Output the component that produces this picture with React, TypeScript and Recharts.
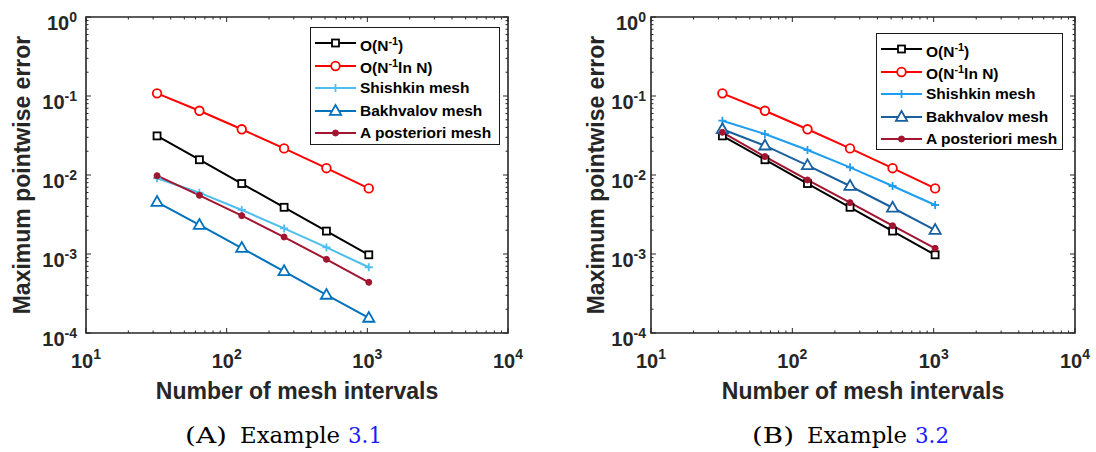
import React from 'react';
import { LineChart, Line, XAxis, YAxis, Legend, ReferenceArea } from 'recharts';

// ---------- data ----------
const meshSizes = [32, 64, 128, 256, 512, 1024];
const orderN = [0.03125, 0.0156, 0.0078, 0.0039, 0.00195, 0.000977];
const orderNlogN = [0.108, 0.065, 0.0379, 0.0217, 0.0122, 0.00677];

const shishkinA = [0.0091, 0.00597, 0.00361, 0.00211, 0.00121, 0.00068];
const bakhvalovA = [0.00455, 0.00233, 0.00119, 0.000604, 0.000303, 0.000155];
const posterioriA = [0.0098, 0.00553, 0.00306, 0.00164, 0.000855, 0.000438];

const shishkinB = [0.0487, 0.033, 0.0207, 0.0125, 0.00726, 0.00417];
const bakhvalovB = [0.0379, 0.0235, 0.01325, 0.00726, 0.00385, 0.00201];
const posterioriB = [0.0347, 0.0171, 0.00865, 0.00447, 0.00228, 0.00118];

const xMajorTicks = [10, 100, 1000, 10000];
const yMajorTicks = [1e-4, 1e-3, 1e-2, 1e-1, 1];
const minorMultipliers = [2, 3, 4, 5, 6, 7, 8, 9];

const xLabel = 'Number of mesh intervals';
const yLabel = 'Maximum pointwise error';

// build tick lists (majors + minors)
const withMinors = (majors: number[]) => {
  const out: number[] = [];
  majors.forEach((m, i) => {
    out.push(m);
    if (i < majors.length - 1) minorMultipliers.forEach((k) => out.push(parseFloat((k * m).toPrecision(6))));
  });
  return out;
};
const xTicks = withMinors(xMajorTicks);
const yTicks = withMinors(yMajorTicks);

const isMajor = (v: number) => {
  const l = Math.log10(v);
  return Math.abs(l - Math.round(l)) < 1e-6;
};

const buildRows = (sh: number[], bk: number[], po: number[]) =>
  meshSizes.map((n, i) => ({ n, o1: orderN[i], olog: orderNlogN[i], sh: sh[i], bk: bk[i], po: po[i] }));

const rowsA = buildRows(shishkinA, bakhvalovA, posterioriA);
const rowsB = buildRows(shishkinB, bakhvalovB, posterioriB);

// ---------- styling ----------
const SANS = "'Liberation Sans', Arial, Helvetica, sans-serif";
const SERIF = "'DejaVu Serif', 'Liberation Serif', serif";
const AXIS = '#262626';

type MarkerKind = 'square' | 'circle' | 'plus' | 'triangle' | 'dot';

const Marker = ({ kind, cx, cy, color }: { kind: MarkerKind; cx: number; cy: number; color: string }) => {
  const sw = 1.8;
  if (kind === 'square')
    return <rect x={cx - 3.5} y={cy - 3.5} width={7} height={7} fill="#fff" stroke={color} strokeWidth={sw} />;
  if (kind === 'circle') return <circle cx={cx} cy={cy} r={4.3} fill="#fff" stroke={color} strokeWidth={sw} />;
  if (kind === 'plus')
    return (
      <path d={`M${cx - 4},${cy}H${cx + 4}M${cx},${cy - 4}V${cy + 4}`} stroke={color} strokeWidth={sw} fill="none" />
    );
  if (kind === 'triangle')
    return (
      <path
        d={`M${cx},${cy - 6}L${cx + 5.6},${cy + 3.8}L${cx - 5.6},${cy + 3.8}Z`}
        fill="#fff"
        stroke={color}
        strokeWidth={sw}
      />
    );
  return <circle cx={cx} cy={cy} r={3} fill={color} stroke={color} strokeWidth={1} />;
};

type Series = { key: string; color: string; marker: MarkerKind; label: React.ReactNode };

const baseSeries = (shColor: string, bkColor: string): Series[] => [
  {
    key: 'o1',
    color: '#000000',
    marker: 'square',
    label: (
      <span>
        O(N<sup style={{ fontSize: '0.7em' }}>-1</sup>)
      </span>
    ),
  },
  {
    key: 'olog',
    color: '#ff0000',
    marker: 'circle',
    label: (
      <span>
        O(N<sup style={{ fontSize: '0.7em' }}>-1</sup>ln N)
      </span>
    ),
  },
  { key: 'sh', color: shColor, marker: 'plus', label: 'Shishkin mesh' },
  { key: 'bk', color: bkColor, marker: 'triangle', label: 'Bakhvalov mesh' },
  { key: 'po', color: '#a2142f', marker: 'dot', label: 'A posteriori mesh' },
];

const seriesA = baseSeries('#4dbeee', '#0072bd');
const seriesB = baseSeries('#1e9ef0', '#1a5f9e');

type PanelCfg = {
  left: number;
  width: number;
  plotLeft: number;
  plotRight: number;
  yTickRight: number;
  yLabelX: number;
  legendLeft: number;
  legendTop: number;
  legendWidth: number;
  legendHeight: number;
  captionLetter: string;
  captionNum: string;
  rows: any[];
  series: Series[];
};

const PLOT_TOP = 17;
const PLOT_BOTTOM = 333;
const HEIGHT = 452;
const X_AXIS_H = 30;

const Panel = ({ cfg }: { cfg: PanelCfg }) => {
  const { plotLeft, plotRight } = cfg;
  const XTick = (props: any) => {
    const { x, payload } = props;
    const v = payload.value;
    const major = isMajor(v);
    const len = major ? 5 : 2.5;
    return (
      <g>
        <line x1={x} x2={x} y1={PLOT_BOTTOM} y2={PLOT_BOTTOM - len} stroke={AXIS} strokeWidth={1} />
        <line x1={x} x2={x} y1={PLOT_TOP} y2={PLOT_TOP + len} stroke={AXIS} strokeWidth={1} />
        {major && (
          <text x={x} y={368} textAnchor="middle" fontFamily={SANS} fontWeight="bold" fontSize={20} fill={AXIS}>
            <tspan>10</tspan>
            <tspan dy={-9} fontSize={14}>
              {Math.round(Math.log10(v))}
            </tspan>
          </text>
        )}
      </g>
    );
  };
  const YTick = (props: any) => {
    const { y, payload } = props;
    const v = payload.value;
    const major = isMajor(v);
    const len = major ? 5 : 2.5;
    return (
      <g>
        <line x1={plotLeft} x2={plotLeft + len} y1={y} y2={y} stroke={AXIS} strokeWidth={1} />
        <line x1={plotRight} x2={plotRight - len} y1={y} y2={y} stroke={AXIS} strokeWidth={1} />
        {major && (
          <text x={cfg.yTickRight} y={y + 13} textAnchor="end" fontFamily={SANS} fontWeight="bold" fontSize={20} fill={AXIS}>
            <tspan>10</tspan>
            <tspan dy={-8} fontSize={14}>
              {Math.round(Math.log10(v))}
            </tspan>
          </text>
        )}
      </g>
    );
  };

  const legendContent = () => (
    <div
      style={{
        width: cfg.legendWidth,
        height: cfg.legendHeight,
        boxSizing: 'border-box',
        border: '1.3px solid #1a1a1a',
        background: '#fff',
        paddingTop: 4,
        fontFamily: SANS,
        fontWeight: 'bold',
        fontSize: 15.5,
        color: '#000',
      }}
    >
      {cfg.series.map((s) => (
        <div key={s.key} style={{ display: 'flex', alignItems: 'center', height: 22.5, whiteSpace: 'nowrap' }}>
          <svg width={46} height={22} style={{ flex: 'none', marginLeft: 3 }}>
            <line x1={1} x2={42} y1={11} y2={11} stroke={s.color} strokeWidth={2} />
            <Marker kind={s.marker} cx={21.5} cy={11} color={s.color} />
          </svg>
          <span style={{ lineHeight: '22px' }}>{s.label}</span>
        </div>
      ))}
    </div>
  );

  return (
    <div style={{ position: 'absolute', left: cfg.left, top: 0, width: cfg.width, height: HEIGHT }}>
      <LineChart
        width={cfg.width}
        height={HEIGHT}
        data={cfg.rows}
        margin={{ top: PLOT_TOP, right: cfg.width - plotRight, bottom: HEIGHT - PLOT_BOTTOM - X_AXIS_H, left: 0 }}
      >
        <XAxis
          dataKey="n"
          type="number"
          scale="log"
          domain={[10, 10000]}
          ticks={xTicks}
          interval={0}
          height={X_AXIS_H}
          axisLine={false}
          tickLine={false}
          tick={XTick}
          allowDataOverflow
          label={{
            content: () => (
              <text
                x={(plotLeft + plotRight) / 2}
                y={399}
                textAnchor="middle"
                fontFamily={SANS}
                fontWeight="bold"
                fontSize={23}
                fill={AXIS}
              >
                {xLabel}
              </text>
            ),
          }}
        />
        <YAxis
          type="number"
          scale="log"
          domain={[1e-4, 1]}
          ticks={yTicks}
          interval={0}
          width={plotLeft}
          axisLine={false}
          tickLine={false}
          tick={YTick}
          allowDataOverflow
          label={{
            content: () => (
              <text
                x={cfg.yLabelX}
                y={(PLOT_TOP + PLOT_BOTTOM) / 2}
                transform={`rotate(-90 ${cfg.yLabelX} ${(PLOT_TOP + PLOT_BOTTOM) / 2})`}
                textAnchor="middle"
                dominantBaseline="central"
                fontFamily={SANS}
                fontWeight="bold"
                fontSize={23}
                fill={AXIS}
              >
                {yLabel}
              </text>
            ),
          }}
        />
        <ReferenceArea x1={10} x2={10000} y1={1e-4} y2={1} fill="none" stroke={AXIS} strokeWidth={1.6} ifOverflow="visible" />
        {cfg.series.map((s) => (
          <Line
            key={s.key}
            dataKey={s.key}
            stroke={s.color}
            strokeWidth={2}
            isAnimationActive={false}
            activeDot={false}
            dot={(p: any) => <Marker key={`${s.key}-${p.index}`} kind={s.marker} cx={p.cx} cy={p.cy} color={s.color} />}
          />
        ))}
        <Legend
          layout="vertical"
          align="center"
          verticalAlign="middle"
          content={legendContent}
          wrapperStyle={{ position: 'absolute', left: cfg.legendLeft, top: cfg.legendTop, width: cfg.legendWidth, height: cfg.legendHeight }}
        />
      </LineChart>
    </div>
  );
};

const panelA: PanelCfg = {
  left: 0,
  width: 548,
  plotLeft: 86,
  plotRight: 508,
  yTickRight: 77,
  yLabelX: 22,
  legendLeft: 310,
  legendTop: 27,
  legendWidth: 190,
  legendHeight: 118,
  captionLetter: '(A)',
  captionNum: '3.1',
  rows: rowsA,
  series: seriesA,
};

const panelB: PanelCfg = {
  left: 548,
  width: 548,
  plotLeft: 103,
  plotRight: 527,
  yTickRight: 98,
  yLabelX: 48,
  legendLeft: 328,
  legendTop: 33,
  legendWidth: 187,
  legendHeight: 117,
  captionLetter: '(B)',
  captionNum: '3.2',
  rows: rowsB,
  series: seriesB,
};

const Caption = ({ x0, letter, num }: { x0: number; letter: string; num: string }) => (
  <g fontFamily={SERIF} fontSize={22.5} fill="#000">
    <text x={x0} y={443} textLength={42} lengthAdjust="spacingAndGlyphs">
      {letter}
    </text>
    <text x={x0 + 55} y={443} textLength={100} lengthAdjust="spacingAndGlyphs">
      Example
    </text>
    <text x={x0 + 163} y={443} textLength={34} lengthAdjust="spacingAndGlyphs" fill="#1a1aff">
      {num}
    </text>
  </g>
);

export default function App() {
  return (
    <div style={{ position: 'absolute', left: 0, top: 0, width: 1096, height: 452, background: '#fff', overflow: 'hidden' }}>
      <Panel cfg={panelA} />
      <Panel cfg={panelB} />
      <svg width={1096} height={452} style={{ position: 'absolute', left: 0, top: 0, pointerEvents: 'none' }}>
        <Caption x0={185} letter={panelA.captionLetter} num={panelA.captionNum} />
        <Caption x0={752} letter={panelB.captionLetter} num={panelB.captionNum} />
      </svg>
    </div>
  );
}
